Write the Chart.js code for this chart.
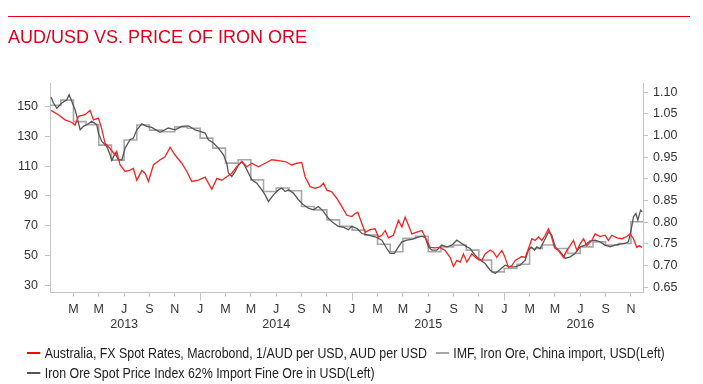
<!DOCTYPE html>
<html>
<head>
<meta charset="utf-8">
<script src="https://cdn.jsdelivr.net/npm/chart.js@4"></script>
<style>
  html, body { margin: 0; padding: 0; background: #fff; }
  body { width: 703px; height: 384px; position: relative; overflow: hidden; font-family: 'Liberation Sans', Arial, sans-serif; }
  #chart { position: absolute; left: 0; top: 0; }
  .rule { position: absolute; left: 8px; top: 16px; width: 682px; height: 1px; background: #e2001a; }
  h1 { position: absolute; left: 8px; top: 27px; margin: 0; font-weight: normal; font-size: 18px; color: #e2001a; white-space: nowrap; }
  .legend { position: absolute; left: 27px; font-size: 14px; color: #222; white-space: nowrap; transform: scaleX(0.885); transform-origin: left top; line-height: 16px; }
  .legend .item { display: inline-block; margin-right: 6px; }
  .legend .sw { display: inline-block; width: 15px; height: 2px; vertical-align: middle; margin-right: 5px; position: relative; top: -1px; }
</style>
</head>
<body>
<canvas id="chart" width="703" height="384"></canvas>
<div class="rule"></div>
<h1>AUD/USD VS. PRICE OF IRON ORE</h1>
<div class="legend" style="top: 345px;">
  <span class="item"><span class="sw" style="background:#ff0000"></span>Australia, FX Spot Rates, Macrobond, 1/AUD per USD, AUD per USD</span>
  <span class="item"><span class="sw" style="background:#a8a8a8"></span>IMF, Iron Ore, China import, USD(Left)</span>
</div>
<div class="legend" style="top: 365px;">
  <span class="item"><span class="sw" style="background:#555"></span>Iron Ore Spot Price Index 62% Import Fine Ore in USD(Left)</span>
</div>
<script>
// x values are months since Jan 2013 (0 = 1 Jan 2013)
const audMonths = [
    0.24, 0.81, 1.34, 1.87, 2.13, 2.39, 2.92, 3.31, 3.58, 3.97, 4.18, 4.50, 4.89, 5.29, 5.42, 5.68,
    6.08, 6.47, 6.73, 7.00, 7.40, 7.66, 7.92, 8.31, 8.84, 9.23, 9.63, 10.02, 10.55, 10.95, 11.34, 11.86,
    12.39, 12.92, 13.32, 13.71, 14.10, 14.50, 14.89, 15.29, 15.68, 16.08, 16.60, 17.13, 17.66, 18.18,
    18.71, 19.23, 19.63, 20.02, 20.28, 20.68, 21.07, 21.47, 21.73, 22.00, 22.39, 22.79, 23.18, 23.58,
    23.97, 24.23, 24.44, 24.76, 25.02, 25.41, 25.81, 26.07, 26.34, 26.60, 26.86, 27.25, 27.65, 27.92,
    28.18, 28.44, 28.71, 29.10, 29.50, 29.76, 30.15, 30.54, 30.94, 31.33, 31.73, 31.99, 32.26, 32.52,
    32.78, 33.05, 33.44, 33.84, 34.23, 34.49, 34.89, 35.15, 35.41, 35.81, 36.01, 36.33, 36.60, 36.86,
    37.12, 37.39, 37.65, 37.91, 38.18, 38.44, 38.70, 38.97, 39.23, 39.49, 39.70, 39.96, 40.28, 40.67,
    40.94, 41.20, 41.46, 41.73, 41.99, 42.25, 42.52, 42.91, 43.17, 43.57, 43.96, 44.22, 44.49, 44.89,
    45.28, 45.67, 45.94, 46.20, 46.46, 46.65, 46.86
];
const audValues = [
    1.058, 1.048, 1.036, 1.030, 1.024, 1.044, 1.048, 1.058, 1.036, 1.040, 1.021, 0.982, 0.970, 0.955, 0.963, 0.932,
    0.917, 0.920, 0.924, 0.897, 0.919, 0.913, 0.894, 0.932, 0.944, 0.951, 0.973, 0.955, 0.936, 0.917, 0.894, 0.897,
    0.904, 0.876, 0.901, 0.897, 0.905, 0.913, 0.928, 0.940, 0.928, 0.936, 0.928, 0.936, 0.944, 0.942,
    0.940, 0.932, 0.936, 0.938, 0.905, 0.882, 0.878, 0.882, 0.890, 0.874, 0.870, 0.855, 0.836, 0.816,
    0.813, 0.820, 0.823, 0.797, 0.777, 0.783, 0.785, 0.766, 0.770, 0.781, 0.764, 0.770, 0.804, 0.789,
    0.812, 0.793, 0.773, 0.777, 0.781, 0.766, 0.742, 0.741, 0.742, 0.735, 0.719, 0.698, 0.712, 0.708,
    0.727, 0.708, 0.727, 0.716, 0.712, 0.727, 0.736, 0.731, 0.719, 0.735, 0.723, 0.696, 0.700, 0.712,
    0.716, 0.721, 0.719, 0.739, 0.762, 0.758, 0.766, 0.758, 0.770, 0.785, 0.770, 0.742, 0.735, 0.719,
    0.735, 0.746, 0.758, 0.735, 0.750, 0.762, 0.746, 0.758, 0.773, 0.767, 0.770, 0.758, 0.770, 0.764,
    0.762, 0.767, 0.773, 0.762, 0.742, 0.746, 0.742
];

const spotMonths = [
    0.24, 0.42, 0.69, 1.08, 1.48, 1.66, 1.87, 2.13, 2.34, 2.53, 2.79, 3.05, 3.45, 3.84, 3.97, 4.24,
    4.63, 4.89, 5.03, 5.29, 5.55, 5.82, 6.08, 6.47, 6.73, 7.00, 7.40, 7.79, 8.18, 8.84, 9.49, 10.02,
    10.55, 11.07, 11.60, 12.00, 12.39, 12.65, 13.05, 13.44, 13.84, 14.10, 14.23, 14.50, 14.76, 15.02,
    15.29, 15.55, 15.81, 16.08, 16.47, 16.87, 17.13, 17.39, 17.79, 18.18, 18.44, 18.71, 18.97, 19.36,
    19.76, 20.15, 20.54, 20.94, 21.33, 21.73, 22.12, 22.52, 22.91, 23.31, 23.70, 23.97, 24.39, 24.76,
    25.28, 25.81, 26.34, 26.73, 26.99, 27.33, 27.65, 27.92, 28.31, 28.71, 29.10, 29.50, 29.76, 30.02,
    30.28, 30.68, 31.07, 31.47, 31.86, 32.26, 32.65, 33.05, 33.31, 33.70, 34.10, 34.49, 34.89, 35.28,
    35.67, 36.07, 36.46, 36.86, 37.25, 37.65, 37.91, 38.12, 38.39, 38.57, 38.83, 39.17, 39.49, 39.75,
    40.02, 40.41, 40.81, 41.20, 41.59, 41.99, 42.38, 42.78, 43.17, 43.57, 43.96, 44.36, 44.75, 45.15,
    45.54, 45.80, 46.01, 46.20, 46.39, 46.54, 46.76, 46.89
];
const spotValues = [
    156.5, 152.5, 149.1, 152.5, 154.7, 158.1, 153.6, 148.0, 141.2, 134.5, 136.8, 137.9, 140.2, 137.9, 132.3, 126.7,
    123.3, 117.7, 113.9, 118.8, 114.3, 114.3, 122.2, 127.8, 128.9, 134.5, 138.6, 136.8, 136.1, 132.8, 135.7, 134.5,
    136.8, 137.2, 134.5, 133.4, 132.3, 127.8, 125.6, 122.2, 117.7, 112.1, 105.4, 103.1, 106.5, 110.9,
    113.2, 109.9, 105.4, 100.8, 98.6, 94.1, 90.7, 86.3, 90.7, 94.1, 95.3, 93.0, 94.1, 91.9,
    87.4, 84.0, 81.8, 80.6, 82.9, 79.6, 75.0, 71.7, 69.5, 69.0, 67.2, 69.5, 68.1, 64.7,
    63.6, 62.5, 60.2, 54.6, 51.3, 51.3, 55.7, 59.1, 60.2, 60.7, 62.0, 62.9, 62.0, 55.7,
    53.5, 53.5, 56.9, 55.7, 56.9, 60.2, 58.0, 55.7, 54.6, 50.1, 46.8, 44.5, 40.0, 37.8,
    40.5, 43.4, 42.3, 42.3, 43.4, 46.8, 53.5, 55.7, 53.5, 55.7, 54.6, 60.2, 65.8, 63.6,
    55.7, 52.4, 47.9, 49.0, 51.3, 55.7, 56.9, 59.8, 60.2, 59.1, 56.9, 55.7, 56.9, 57.5,
    58.0, 59.1, 67.0, 75.9, 78.2, 73.7, 80.4, 79.3
];

// IMF monthly averages, Jan 2013 .. Nov 2016
const imfValues = [
    151.0, 154.5, 140.0, 138.0, 124.2, 114.1, 127.6, 137.7, 134.3, 133.2, 136.5, 135.5,
    128.9, 122.2, 112.1, 114.3, 100.8, 93.0, 95.3, 93.5, 82.9, 80.6, 73.9, 69.5,
    67.0, 63.6, 57.5, 52.4, 61.4, 62.9, 52.4, 55.7, 56.9, 53.5, 46.8, 38.9,
    41.2, 44.0, 54.6, 57.0, 54.6, 51.3, 55.7, 59.1, 56.9, 58.0, 72.6
];

const tickMonths = [2, 4, 6, 8, 10, 12, 14, 16, 18, 20, 22, 24, 26, 28, 30, 32, 34, 36, 38, 40, 42, 44, 46];
const tickLabels = ['M', 'M', 'J', 'S', 'N', 'J', 'M', 'M', 'J', 'S', 'N', 'J', 'M', 'M', 'J', 'S', 'N', 'J', 'M', 'M', 'J', 'S', 'N'];
const yearMonths = [6, 18, 30, 42];
const yearLabels = ['2013', '2014', '2015', '2016'];
const yearStarts = [12, 24, 36];

const leftTicks = [30, 40, 50, 60, 70, 80, 90, 100, 110, 120, 130, 140, 150, 160];
const leftLabels = ['30', '', '50', '', '70', '', '90', '', '110', '', '130', '', '150', ''];
const rightTicks = [0.65, 0.70, 0.75, 0.80, 0.85, 0.90, 0.95, 1.00, 1.05, 1.10];

const AXIS = '#c4c4c4';
const TEXT = '#333';
const FONT = "'Liberation Sans', Arial, sans-serif";

const toPoints = (xs, ys) => xs.map((x, i) => ({ x: x, y: ys[i] }));
const imfPoints = imfValues.map((v, i) => ({ x: i, y: v }));
imfPoints.push({ x: imfValues.length, y: imfValues[imfValues.length - 1] });

// longer tick marks at year boundaries
const yearTicks = {
    id: 'yearTicks',
    afterDraw(chart) {
        const x = chart.scales.x;
        const ctx = chart.ctx;
        ctx.save();
        ctx.strokeStyle = AXIS;
        ctx.lineWidth = 1;
        yearStarts.forEach(m => {
            const px = Math.round(x.getPixelForValue(m)) + 0.5;
            ctx.beginPath();
            ctx.moveTo(px, x.top);
            ctx.lineTo(px, x.top + 8);
            ctx.stroke();
        });
        ctx.restore();
    }
};

new Chart(document.getElementById('chart'), {
    type: 'line',
    data: {
        datasets: [
            {
                label: 'Australia, FX Spot Rates, Macrobond, 1/AUD per USD, AUD per USD',
                data: toPoints(audMonths, audValues),
                yAxisID: 'y2',
                borderColor: '#ff1f1f',
                borderWidth: 1.3
            },
            {
                label: 'Iron Ore Spot Price Index 62% Import Fine Ore in USD(Left)',
                data: toPoints(spotMonths, spotValues),
                yAxisID: 'y',
                borderColor: '#555',
                borderWidth: 1.3
            },
            {
                label: 'IMF, Iron Ore, China import, USD(Left)',
                data: imfPoints,
                yAxisID: 'y',
                borderColor: '#a8a8a8',
                borderWidth: 1.6,
                stepped: 'before'
            }
        ]
    },
    options: {
        responsive: false,
        animation: false,
        layout: { padding: { top: 83, left: 0, right: 0, bottom: 0 } },
        elements: { point: { radius: 0 }, line: { tension: 0 } },
        plugins: { legend: { display: false }, title: { display: false }, tooltip: { enabled: false } },
        scales: {
            x: {
                type: 'linear',
                min: 0.15,
                max: 46.95,
                afterBuildTicks: s => { s.ticks = tickMonths.map(v => ({ value: v })); },
                afterFit: s => { s.height = 91.5; },
                grid: { drawOnChartArea: false, drawTicks: true, tickLength: 4, color: AXIS },
                border: { color: AXIS },
                ticks: {
                    autoSkip: false,
                    maxRotation: 0,
                    minRotation: 0,
                    padding: 5,
                    color: TEXT,
                    font: { family: FONT, size: 12.5, lineHeight: 1.25 },
                    callback: (v, i) => {
                        const y = yearMonths.indexOf(v);
                        return y >= 0 ? [tickLabels[i], yearLabels[y]] : tickLabels[i];
                    }
                }
            },
            y: {
                position: 'left',
                min: 25,
                max: 166,
                afterBuildTicks: s => { s.ticks = leftTicks.map(v => ({ value: v })); },
                afterFit: s => { s.width = 50; },
                grid: { drawOnChartArea: false, drawTicks: true, tickLength: 5, color: AXIS },
                border: { color: AXIS },
                ticks: {
                    padding: 7,
                    color: TEXT,
                    font: { family: FONT, size: 12.5 },
                    callback: (v, i) => leftLabels[i]
                }
            },
            y2: {
                position: 'right',
                min: 0.638,
                max: 1.121,
                afterBuildTicks: s => { s.ticks = rightTicks.map(v => ({ value: v })); },
                afterFit: s => { s.width = 60; },
                grid: { drawOnChartArea: false, drawTicks: true, tickLength: 5, color: AXIS },
                border: { color: AXIS },
                ticks: {
                    padding: 5,
                    color: TEXT,
                    font: { family: FONT, size: 12.5 },
                    callback: v => v.toFixed(2)
                }
            }
        }
    },
    plugins: [yearTicks]
});
</script>
</body>
</html>
